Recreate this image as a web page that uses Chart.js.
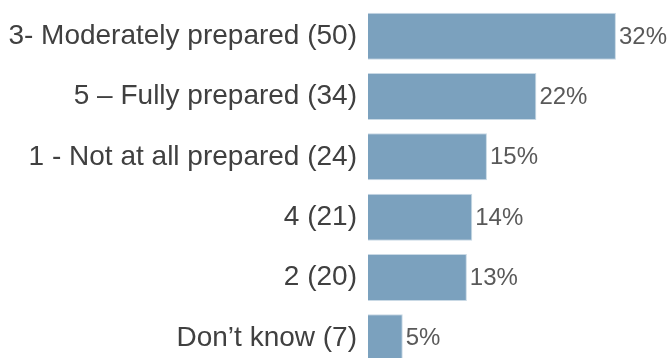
<!DOCTYPE html>
<html lang="en">
<head>
  <meta charset="UTF-8">
  <title>Preparedness</title>
  <style>
    html, body { margin: 0; padding: 0; overflow: hidden; background: #fff; }
  </style>
</head>
<body>
<div>
  <canvas id="chart" width="670" height="368"></canvas>
</div>

<script src="https://cdn.jsdelivr.net/npm/chart.js"></script>

<script>
  const categories = [
    '3- Moderately prepared (50)',
    '5 \u2013 Fully prepared (34)',
    '1 - Not at all prepared (24)',
    '4 (21)',
    '2 (20)',
    'Don\u2019t know (7)'
  ];
  const percents = [32.1, 21.8, 15.4, 13.5, 12.8, 4.5];
  const valueLabels = ['32%', '22%', '15%', '14%', '13%', '5%'];

  // draws the percentage just right of each bar
  const valueLabelPlugin = {
    id: 'valueLabels',
    afterDatasetsDraw(chart) {
      const ctx = chart.ctx;
      const meta = chart.getDatasetMeta(0);
      ctx.save();
      ctx.font = '24px "Liberation Sans", Arial, sans-serif';
      ctx.fillStyle = '#595959';
      ctx.textAlign = 'left';
      ctx.textBaseline = 'middle';
      meta.data.forEach((bar, i) => {
        ctx.fillText(valueLabels[i], bar.x + 3, bar.y + 1);
      });
      ctx.restore();
    }
  };

  new Chart(document.getElementById('chart'), {
    type: 'bar',
    data: {
      labels: categories,
      datasets: [{
        data: percents,
        backgroundColor: '#7ba1be',
        borderColor: '#c9d9e5',
        borderWidth: 1,
        barPercentage: 0.78,
        categoryPercentage: 1
      }]
    },
    options: {
      indexAxis: 'y',
      responsive: false,
      animation: false,
      layout: { padding: { top: 6, right: 0, bottom: 0, left: 0 } },
      plugins: {
        legend: { display: false },
        tooltip: { enabled: false }
      },
      scales: {
        x: {
          display: false,
          min: 0,
          max: 39.1
        },
        y: {
          border: { display: false },
          grid: { display: false, drawTicks: false },
          ticks: {
            color: '#404040',
            padding: 11,
            font: { family: '"Liberation Sans", Arial, sans-serif', size: 28 }
          },
          afterFit(axis) {
            axis.width = 368;
            // no extra room above/below for the first and last label
            axis.paddingTop = 0;
            axis.paddingBottom = 0;
          }
        }
      }
    },
    plugins: [valueLabelPlugin]
  });
</script>
</body>
</html>
